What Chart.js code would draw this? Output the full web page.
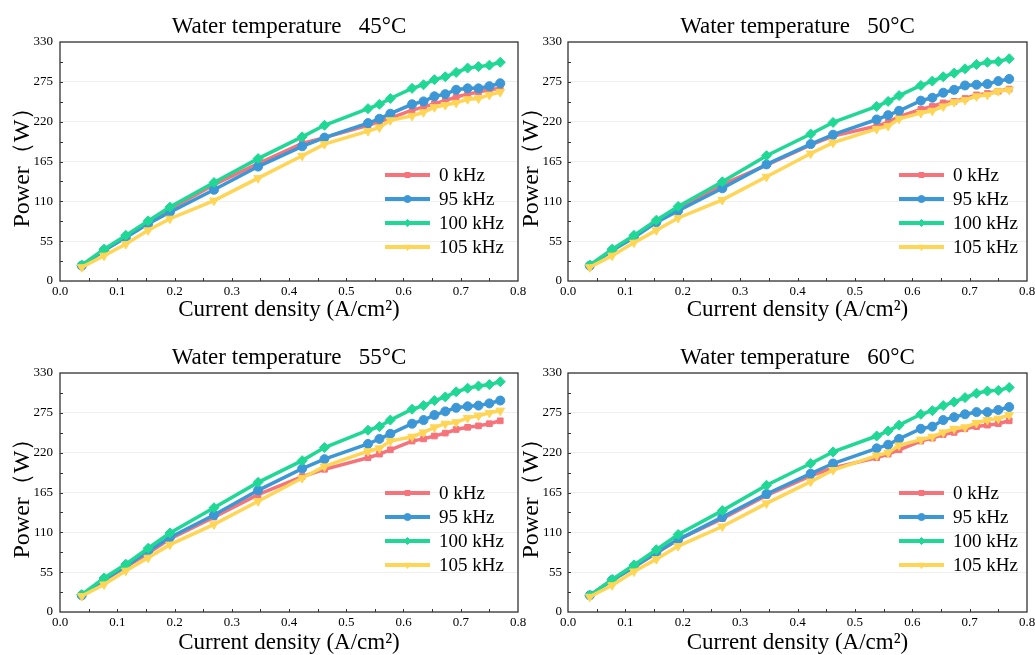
<!DOCTYPE html>
<html>
<head>
<meta charset="utf-8">
<script src="https://cdn.jsdelivr.net/npm/chart.js@4.4.1/dist/chart.umd.min.js"></script>
<style>
  html, body { margin: 0; padding: 0; background: #fff; overflow: hidden; }
  .panel { position: absolute; }
</style>
</head>
<body>
<canvas id="c45" class="panel" width="535" height="330" style="left:0;top:0"></canvas>
<canvas id="c50" class="panel" width="530" height="330" style="left:515px;top:0"></canvas>
<canvas id="c55" class="panel" width="535" height="331" style="left:0;top:330px"></canvas>
<canvas id="c60" class="panel" width="530" height="331" style="left:515px;top:330px"></canvas>
<script>
// current density (A/cm²), same for every panel
const xValues = [0.038, 0.077, 0.115, 0.154, 0.192, 0.269, 0.346, 0.423, 0.462, 0.538, 0.558,
  0.577, 0.615, 0.635, 0.654, 0.673, 0.692, 0.712, 0.731, 0.750, 0.769];

const seriesLabels = ['0 kHz', '95 kHz', '100 kHz', '105 kHz'];
const panelTitles = ['Water temperature   45°C', 'Water temperature   50°C',
  'Water temperature   55°C', 'Water temperature   60°C'];
const yTicks = [0, 55, 110, 165, 220, 275, 330];

// power (W) — 45°C
const p45_0k = [21, 43, 61, 81, 99, 133, 162, 190, 198, 215, 220, 225, 236, 240, 245, 249, 254, 258, 261, 264, 266];
const p45_95k = [21, 42, 60, 79, 95, 126, 158, 186, 198, 218, 224, 231, 244, 248, 255, 258, 264, 266, 266, 269, 273];
const p45_100k = [22, 44, 63, 83, 102, 136, 169, 199, 215, 238, 244, 252, 266, 271, 278, 282, 288, 294, 296, 298, 302];
const p45_105k = [19, 35, 51, 70, 86, 111, 142, 173, 189, 207, 212, 222, 228, 233, 240, 243, 246, 251, 252, 257, 261];

// 50°C
const p50_0k = [21, 43, 61, 82, 100, 133, 160, 188, 200, 214, 219, 227, 237, 241, 246, 248, 252, 257, 259, 262, 265];
const p50_95k = [21, 42, 60, 81, 97, 128, 161, 189, 202, 223, 229, 235, 249, 253, 260, 264, 270, 271, 272, 276, 279];
const p50_100k = [22, 44, 63, 84, 103, 137, 173, 203, 219, 241, 248, 256, 270, 276, 282, 287, 293, 299, 302, 303, 307];
const p50_105k = [19, 35, 53, 70, 87, 112, 144, 176, 191, 210, 214, 224, 232, 235, 241, 247, 250, 255, 257, 262, 264];

// 55°C
const p55_0k = [23, 44, 62, 81, 101, 131, 162, 187, 197, 213, 218, 224, 236, 239, 243, 247, 252, 255, 257, 260, 264];
const p55_95k = [23, 45, 63, 84, 103, 134, 168, 198, 211, 232, 239, 246, 260, 265, 272, 277, 282, 284, 285, 288, 292];
const p55_100k = [24, 47, 66, 88, 109, 144, 179, 209, 227, 251, 256, 265, 280, 285, 292, 297, 304, 309, 312, 314, 318];
const p55_105k = [22, 38, 57, 75, 93, 121, 153, 185, 201, 222, 226, 236, 242, 248, 255, 260, 262, 268, 271, 275, 278];

// 60°C
const p60_0k = [23, 44, 62, 81, 100, 129, 161, 188, 199, 213, 218, 224, 236, 240, 245, 248, 253, 256, 258, 260, 264];
const p60_95k = [23, 44, 62, 82, 100, 131, 163, 191, 205, 226, 231, 239, 253, 256, 265, 269, 273, 276, 276, 279, 283];
const p60_100k = [23, 45, 65, 86, 107, 140, 175, 205, 221, 243, 250, 258, 273, 278, 285, 290, 296, 302, 305, 306, 310];
const p60_105k = [21, 37, 56, 73, 91, 118, 150, 180, 196, 216, 220, 230, 238, 242, 248, 253, 255, 261, 265, 267, 272];

const colors = ['#F7737B', '#3B97D6', '#1FD895', '#FFD556'];
const markers = ['rect', 'circle', 'rectRot', 'triangle'];
const markerRot = [0, 0, 0, 180];
const markerSize = [4, 4.5, 5, 5];
const drawOrder = [4, 3, 2, 1];

const serif = "'Liberation Serif', 'Times New Roman', serif";

// legend drawn inside the plot area
const insideLegend = {
  id: 'insideLegend',
  afterDatasetsDraw(chart, args, opts) {
    const ctx = chart.ctx;
    const a = chart.chartArea;
    chart.data.datasets.forEach((ds, i) => {
      const x = a.left + opts.x;
      const y = a.top + opts.y + i * opts.rowHeight;
      ctx.save();
      ctx.strokeStyle = ds.borderColor;
      ctx.fillStyle = ds.borderColor;
      ctx.lineWidth = 4;
      ctx.beginPath();
      ctx.moveTo(x, y);
      ctx.lineTo(x + 45, y);
      ctx.stroke();
      ctx.lineWidth = 1;
      Chart.helpers.drawPoint(ctx, {
        pointStyle: ds.pointStyle, rotation: ds.pointRotation, radius: 3.5, borderWidth: 1
      }, x + 22.5, y);
      ctx.fillStyle = '#000';
      ctx.font = '19px ' + serif;
      ctx.textBaseline = 'middle';
      ctx.fillText(ds.label, x + 54, y + 1);
      ctx.restore();
    });
  }
};

// full box around the plot area, with small inward ticks
const frameBox = {
  id: 'frameBox',
  afterDraw(chart) {
    const a = chart.chartArea;
    const ctx = chart.ctx;
    const xs = chart.scales.x;
    const ys = chart.scales.y;
    ctx.save();
    ctx.strokeStyle = '#333';
    ctx.lineWidth = 1.3;
    ctx.strokeRect(a.left, a.top, a.right - a.left, a.bottom - a.top);
    ctx.lineWidth = 1;
    ctx.beginPath();
    for (let v = 0.05; v < 0.8; v += 0.05) {
      const px = Math.round(xs.getPixelForValue(v)) + 0.5;
      ctx.moveTo(px, a.bottom);
      ctx.lineTo(px, a.bottom - 3);
    }
    for (let v = 27.5; v < 330; v += 27.5) {
      const py = Math.round(ys.getPixelForValue(v)) + 0.5;
      ctx.moveTo(a.left, py);
      ctx.lineTo(a.left + 3, py);
    }
    ctx.stroke();
    ctx.restore();
  }
};

function makePanel(id, title, series, lay) {
  const datasets = series.map((vals, i) => ({
    label: seriesLabels[i],
    data: xValues.map((x, j) => ({ x: x, y: vals[j] })),
    borderColor: colors[i],
    backgroundColor: colors[i],
    borderWidth: 3.5,
    pointStyle: markers[i],
    pointRotation: markerRot[i],
    pointRadius: markerSize[i],
    pointBorderWidth: 1,
    order: drawOrder[i],
  }));

  return new Chart(document.getElementById(id), {
    type: 'line',
    data: { datasets: datasets },
    plugins: [insideLegend, frameBox],
    options: {
      responsive: false,
      animation: false,
      layout: { padding: { left: 0, right: lay.padRight, top: 0, bottom: 0 } },
      plugins: {
        legend: { display: false },
        tooltip: { enabled: false },
        title: {
          display: true,
          fullSize: false,
          text: title,
          color: '#000',
          font: { family: serif, size: 23, weight: 'normal' },
          padding: { top: lay.titleTop, bottom: lay.titleBottom },
        },
        insideLegend: { x: lay.legX, y: lay.legY, rowHeight: 24 },
      },
      scales: {
        x: {
          type: 'linear',
          min: 0,
          max: 0.8,
          ticks: {
            stepSize: 0.1,
            color: '#000',
            padding: 3,
            maxRotation: 0,
            font: { family: serif, size: 13 },
            callback: (v) => v.toFixed(1),
          },
          grid: { display: false, drawTicks: false },
          border: { display: false },
          title: {
            display: true,
            text: 'Current density (A/cm²)',
            color: '#000',
            font: { family: serif, size: 23 },
            padding: { top: lay.xTitlePad, bottom: lay.xTitlePad },
          },
          afterFit: (s) => { s.height = lay.xAxisH; },
        },
        y: {
          min: 0,
          max: 330,
          afterBuildTicks: (s) => { s.ticks = yTicks.map((v) => ({ value: v })); },
          ticks: {
            color: '#000',
            padding: lay.yTickPad,
            font: { family: serif, size: 13 },
          },
          grid: { color: '#EFEFEF', drawTicks: false },
          border: { display: false },
          title: {
            display: true,
            text: 'Power（W）',
            color: '#000',
            font: { family: serif, size: 24 },
            padding: { top: lay.yTitlePad, bottom: lay.yTitlePad },
          },
          afterFit: (s) => { s.width = lay.yAxisW; },
        },
      },
    },
  });
}

const charts = [];
charts.push(makePanel('c45', panelTitles[0], [p45_0k, p45_95k, p45_100k, p45_105k],
  { padRight: 17, titleTop: 13, titleBottom: 1.4, xAxisH: 49, xTitlePad: 6, yAxisW: 60, yTickPad: 7, yTitlePad: 8, legX: 325, legY: 133 }));
charts.push(makePanel('c50', panelTitles[1], [p50_0k, p50_95k, p50_100k, p50_105k],
  { padRight: 18, titleTop: 13, titleBottom: 1.4, xAxisH: 49, xTitlePad: 6, yAxisW: 53, yTickPad: 6, yTitlePad: 2, legX: 331, legY: 133 }));
charts.push(makePanel('c55', panelTitles[2], [p55_0k, p55_95k, p55_100k, p55_105k],
  { padRight: 17, titleTop: 14, titleBottom: 1.4, xAxisH: 49, xTitlePad: 4, yAxisW: 60, yTickPad: 7, yTitlePad: 8, legX: 325, legY: 120 }));
charts.push(makePanel('c60', panelTitles[3], [p60_0k, p60_95k, p60_100k, p60_105k],
  { padRight: 18, titleTop: 14, titleBottom: 1.4, xAxisH: 49, xTitlePad: 4, yAxisW: 53, yTickPad: 6, yTitlePad: 2, legX: 331, legY: 120 }));
</script>
</body>
</html>
